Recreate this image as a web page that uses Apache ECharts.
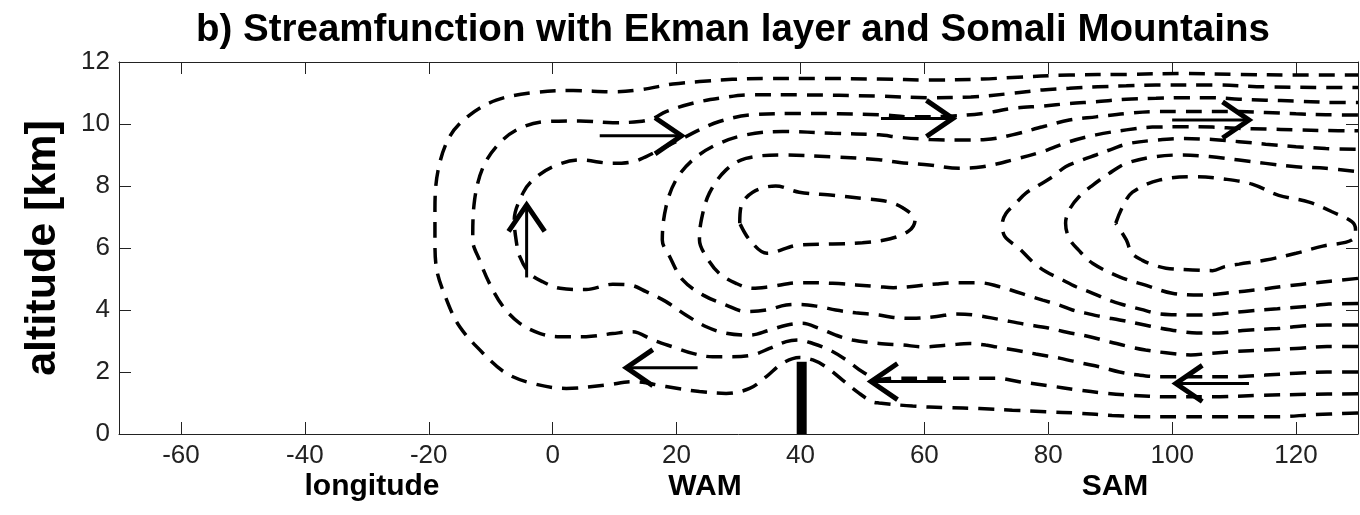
<!DOCTYPE html>
<html><head><meta charset="utf-8">
<script src="https://cdn.jsdelivr.net/npm/echarts@6/dist/echarts.min.js"></script>
<style>html,body{margin:0;padding:0;background:#fff}#c{width:1360px;height:515px}</style>
</head><body><div id="c"></div>
<script>
const xTicks = [-60,-40,-20,0,20,40,60,80,100,120];
const yTicks = [0,2,4,6,8,10,12];

// open streamlines (bottom-right -> west loop -> top-right)
const stream1 = [[130,0.68],[122.6,0.62],[117.2,0.56],[112,0.56],[106.5,0.56],[101,0.56],[95.7,0.56],[90.3,0.6],[85,0.67],[79.6,0.72],[74.2,0.77],[68.9,0.82],[63.5,0.85],[58.1,0.9],[52.7,1.0],[51.6,1.04],[49.5,1.31],[46.8,1.74],[44.1,2.17],[42,2.39],[39.8,2.47],[37.1,2.28],[34.5,1.85],[31.8,1.47],[28,1.31],[23.7,1.37],[18.3,1.53],[12.9,1.69],[8.7,1.58],[2.2,1.47],[-3.2,1.63],[-7.5,1.96],[-11.2,2.6],[-15,3.46],[-17.1,4.32],[-18.8,5.4],[-19,6.26],[-19,7.23],[-18.5,8.5],[-16.6,9.6],[-13.4,10.29],[-9.1,10.77],[-3.2,11.01],[3.3,11.08],[9.7,11.04],[14,11.1],[19.4,11.29],[23.7,11.37],[29,11.44],[34.5,11.47],[42.5,11.47],[52.7,11.45],[60.8,11.42],[69.4,11.45],[74.2,11.5],[83.4,11.58],[92.6,11.6],[101.7,11.63],[110.8,11.6],[120,11.58],[130,11.58]];
const stream2 = [[130,1.3],[122,1.28],[114.6,1.25],[106.5,1.2],[99,1.2],[93.5,1.25],[89,1.32],[84.5,1.43],[80,1.56],[75.5,1.68],[71.5,1.8],[66,1.8],[60,1.8],[55,1.8],[52.7,1.76],[50,2.01],[47.4,2.39],[44.7,2.71],[42,2.92],[39.8,3.03],[37.7,2.98],[35,2.76],[32.3,2.55],[29,2.49],[25.8,2.49],[22.6,2.6],[19.4,2.81],[16.2,3.03],[12.9,3.3],[9.7,3.24],[5.4,3.14],[1.2,3.14],[-2,3.24],[-5.3,3.57],[-8,4.11],[-10.2,4.86],[-11.8,5.61],[-12.9,6.26],[-12.6,7.55],[-11.2,8.62],[-8.6,9.38],[-5.3,9.86],[-1,10.08],[4.4,10.1],[9.7,10.04],[14,10.08],[16.2,10.18],[18.3,10.4],[22.6,10.67],[26.9,10.83],[31.8,10.94],[39.8,10.94],[52.7,10.9],[60.8,10.85],[67.5,10.87],[74.2,10.99],[79.1,11.1],[83.4,11.15],[88,11.2],[92.6,11.23],[97.4,11.26],[106.5,11.26],[115.1,11.2],[124.8,11.18],[130,11.18]];
const stream3 = [[130,2.0],[125,2.0],[120,1.96],[115,1.9],[110,1.85],[104,1.85],[98,1.85],[94.7,1.9],[91.5,2.0],[88.2,2.17],[85.5,2.28],[82,2.44],[78,2.58],[74.8,2.7],[71.6,2.81],[69.9,2.87],[67.3,2.92],[64,2.87],[60,2.81],[56.5,2.87],[52.7,2.92],[48.4,3.03],[45.7,3.19],[43,3.41],[40.3,3.57],[37.7,3.51],[35,3.35],[31.8,3.19],[28,3.25],[24.8,3.46],[21.5,3.84],[18.3,4.27],[15.1,4.59],[12.4,4.81],[9.7,4.83],[5.4,4.66],[1.2,4.7],[-1.6,4.91],[-3.7,5.18],[-5.3,5.72],[-5.9,6.26],[-6.2,6.9],[-4.8,7.77],[-3.2,8.19],[0,8.62],[4.4,8.84],[9.7,8.73],[12.9,8.78],[15.1,8.95],[17.8,9.22],[21,9.54],[23.7,9.81],[26.9,10.08],[31.8,10.29],[39.8,10.34],[52.7,10.3],[58,10.23],[64,10.25],[69.4,10.34],[74.2,10.5],[79.1,10.58],[83.4,10.66],[87.7,10.72],[92.6,10.8],[97.4,10.83],[101.7,10.85],[106.5,10.85],[110.8,10.8],[115.1,10.77],[120,10.74],[124.8,10.7],[130,10.69]];
const stream4 = [[130,2.82],[125,2.82],[120,2.76],[115,2.71],[110,2.66],[106,2.6],[103,2.55],[99,2.62],[95.7,2.71],[93,2.82],[90,2.97],[86,3.17],[83,3.28],[80,3.42],[76,3.55],[72,3.7],[68,3.84],[65,3.87],[62,3.79],[58,3.73],[55,3.76],[52.7,3.84],[48.9,3.91],[45.7,4.0],[43,4.11],[39.8,4.18],[37.7,4.16],[34.5,4.0],[31.2,3.95],[28,4.16],[24.3,4.48],[21,4.97],[18.9,5.72],[17.7,6.26],[18.3,7.33],[19.9,8.19],[22.6,8.84],[26.4,9.33],[31.2,9.65],[37.1,9.76],[45.2,9.7],[52.7,9.65],[56,9.57],[61,9.5],[65.6,9.48],[69.9,9.5],[74.2,9.65],[79.1,9.91],[83.4,10.13],[87.7,10.23],[92.6,10.34],[97.4,10.4],[101.7,10.4],[106.5,10.4],[110.8,10.4],[115.1,10.37],[120,10.33],[124.8,10.3],[130,10.29]];
const stream5 = [[130,3.52],[125,3.52],[121,3.48],[117,3.4],[112,3.35],[107.5,3.26],[104,3.26],[101,3.32],[98,3.42],[95,3.54],[91.5,3.68],[88.7,3.78],[86,3.9],[83.9,4.0],[81.8,4.16],[79.1,4.32],[77,4.45],[74.8,4.59],[72,4.76],[68.9,4.88],[65.6,4.88],[62,4.84],[58,4.76],[55,4.72],[52.7,4.75],[45.2,4.86],[39.8,4.88],[35,4.75],[32.3,4.7],[29.6,4.86],[26.9,5.18],[24.8,5.72],[23.7,6.26],[24,6.9],[25.3,7.77],[28,8.52],[31.2,8.89],[37.1,9.0],[45.2,8.94],[52.7,8.85],[56,8.76],[60.8,8.68],[65.6,8.57],[69.4,8.62],[74.2,8.84],[79.1,9.11],[83.4,9.43],[87.7,9.65],[92.6,9.81],[96.8,9.9],[101.7,9.91],[106.5,9.9],[110.8,9.86],[115.1,9.84],[120,9.81],[124.8,9.79],[130,9.78]];
const stream6 = [[130,4.21],[125.3,4.19],[122,4.12],[117,4.04],[112.5,3.97],[108,3.88],[104,3.84],[100,3.85],[97.5,3.89],[95,4.02],[92.5,4.15],[90,4.3],[87.2,4.54],[84.5,4.75],[82,5.0],[79.6,5.24],[77.5,5.55],[75.3,5.99],[73,6.37],[72.6,6.8],[73.2,7.12],[74.8,7.45],[76.4,7.77],[78.6,8.04],[80.7,8.3],[82.8,8.62],[85.5,8.84],[87.7,9.0],[90.4,9.2],[93,9.37],[97.4,9.48],[101.7,9.53],[106.5,9.5],[110.8,9.43],[115.1,9.35],[120,9.27],[124.8,9.21],[130,9.18]];
const stream7 = [[130,5.02],[125.5,4.93],[123.2,4.88],[118.3,4.77],[114.1,4.66],[109.2,4.56],[104.9,4.48],[100,4.54],[95.7,4.8],[91.5,5.07],[87.2,5.5],[84.9,5.93],[83.4,6.3],[82.8,6.8],[83.4,7.23],[85,7.66],[87.2,8.03],[89.8,8.4],[92.6,8.73],[97.4,8.95],[101.7,9.0],[106,8.95],[110.8,8.84],[115.1,8.73],[120,8.62],[124.8,8.57],[130,8.46]];
// closed cells
const cellWAM = [[30.2,6.8],[30.4,7.33],[32.3,7.8],[36,8.0],[39.8,7.8],[45.2,7.7],[50,7.6],[54,7.5],[56.5,7.3],[58.5,6.9],[57.5,6.55],[54.5,6.3],[50,6.17],[45.2,6.13],[39.8,6.1],[34.6,5.83],[31.8,6.26],[30.2,6.8]];
const cellSAM = [[90.9,6.8],[92,7.33],[93.6,7.8],[97.9,8.19],[103.8,8.3],[108.6,8.22],[112.9,8.06],[117.2,7.7],[122.1,7.48],[125.8,7.17],[129,6.85],[129.6,6.6],[129,6.26],[124.3,6.06],[120,5.83],[115.1,5.61],[110.8,5.48],[108.5,5.4],[106.5,5.27],[103.3,5.29],[99,5.35],[97,5.45],[95.2,5.6],[93.5,5.83],[92.6,6.26],[90.9,6.8]];

const mountain = [[40.2,0],[40.2,2.33]];
// arrows: [x0, y0, x1(tip), y1(tip)]
const arrows = [[7.6,9.62,20.8,9.62],[53,10.18,64.6,10.18],[100,10.13,112.4,10.13],[-4.2,5.05,-4.2,7.39],[23.4,2.14,11.9,2.14],[63.5,1.69,51.4,1.69],[112.4,1.63,100.6,1.63]];

const streams = [stream1,stream2,stream3,stream4,stream5,stream6,stream7,cellWAM,cellSAM];

const chart = echarts.init(document.getElementById('c'));
const axisLineStyle = {color:'#222', width:1};
const labelFont = {fontFamily:'Liberation Sans, Arial, sans-serif', fontSize:26, color:'#222'};
const series = streams.map(d => ({
  type:'line', data:d, showSymbol:false, smooth:0.35, silent:true, animation:false,
  lineStyle:{color:'#000', width:3.5, type:[16,10]}, z:3
}));
series.push({type:'line', data:mountain, showSymbol:false, silent:true, animation:false,
  lineStyle:{color:'#000', width:10, cap:'butt'}, z:4});
series.push({type:'custom', data:arrows, encode:{x:[0,2], y:[1,3]}, silent:true, animation:false, z:5,
  renderItem(params, api){
    const p0 = api.coord([api.value(0), api.value(1)]);
    const p1 = api.coord([api.value(2), api.value(3)]);
    const ang = Math.atan2(p1[1]-p0[1], p1[0]-p0[0]);
    const L = 32, a = 0.6;
    const h1 = [p1[0]-L*Math.cos(ang-a), p1[1]-L*Math.sin(ang-a)];
    const h2 = [p1[0]-L*Math.cos(ang+a), p1[1]-L*Math.sin(ang+a)];
    return {type:'group', children:[
      {type:'line', shape:{x1:p0[0],y1:p0[1],x2:p1[0],y2:p1[1]}, style:{stroke:'#000',lineWidth:3}},
      {type:'polyline', shape:{points:[h1,p1,h2]}, style:{stroke:'#000',lineWidth:5,fill:null,lineJoin:'miter'}}
    ]};
  }});

chart.setOption({
  animation:false,
  backgroundColor:'#fff',
  title:{text:'b) Streamfunction with Ekman layer and Somali Mountains', left:191, top:6,
    textStyle:{fontFamily:'Liberation Sans, Arial, sans-serif', fontWeight:'bold', fontSize:38.5, color:'#000'}},
  grid:{left:119, right:2, top:62, bottom:81},
  xAxis:[{type:'value', min:-70, max:130, position:'bottom',
      axisLine:{show:true, onZero:false, lineStyle:axisLineStyle},
      axisTick:{show:true, inside:true, length:12, lineStyle:axisLineStyle, customValues:xTicks},
      axisLabel:{...labelFont, margin:9, customValues:xTicks},
      splitLine:{show:false}},
    {type:'value', min:-70, max:130, position:'top',
      axisLine:{show:true, onZero:false, lineStyle:axisLineStyle},
      axisTick:{show:true, inside:true, length:12, lineStyle:axisLineStyle, customValues:xTicks},
      axisLabel:{show:false}, splitLine:{show:false}}],
  yAxis:[{type:'value', min:0, max:12, interval:2, position:'left',
      name:'altitude [km]', nameLocation:'middle', nameRotate:90, nameGap:54,
      nameTextStyle:{fontFamily:'Liberation Sans, Arial, sans-serif', fontWeight:'bold', fontSize:43, color:'#000'},
      axisLine:{show:true, onZero:false, lineStyle:axisLineStyle},
      axisTick:{show:true, inside:true, length:12, lineStyle:axisLineStyle},
      axisLabel:{...labelFont, margin:9}, splitLine:{show:false}},
    {type:'value', min:0, max:12, interval:2, position:'right',
      axisLine:{show:true, onZero:false, lineStyle:axisLineStyle},
      axisTick:{show:true, inside:true, length:12, lineStyle:axisLineStyle},
      axisLabel:{show:false}, splitLine:{show:false}}],
  graphic:[
    {type:'text', x:372, y:487, style:{text:'longitude', align:'center', verticalAlign:'middle', font:'bold 30px Liberation Sans, Arial, sans-serif', fill:'#000'}},
    {type:'text', x:705, y:487, style:{text:'WAM', align:'center', verticalAlign:'middle', font:'bold 30px Liberation Sans, Arial, sans-serif', fill:'#000'}},
    {type:'text', x:1115, y:487, style:{text:'SAM', align:'center', verticalAlign:'middle', font:'bold 30px Liberation Sans, Arial, sans-serif', fill:'#000'}}
  ],
  series
});
</script></body></html>
